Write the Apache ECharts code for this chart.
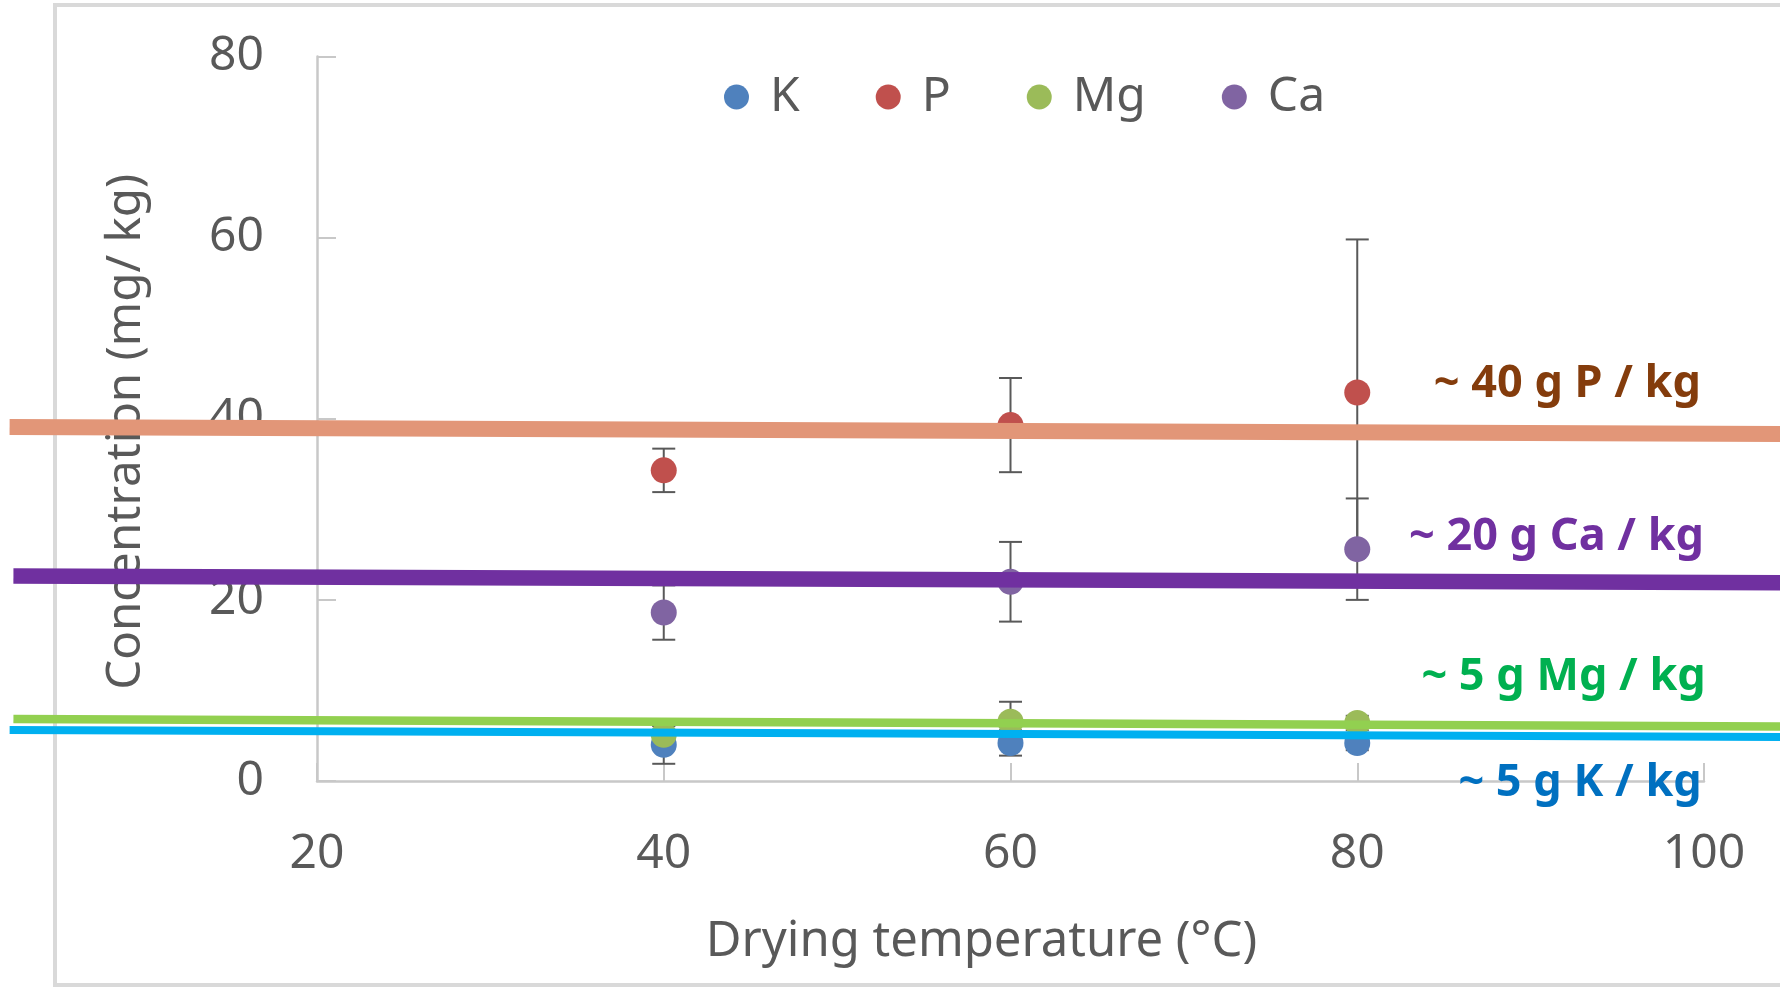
<!DOCTYPE html>
<html><head><meta charset="utf-8">
<script src="https://cdn.jsdelivr.net/npm/echarts@6/dist/echarts.min.js"></script>
<style>html,body{margin:0;padding:0;background:#fff}#c{width:1780px;height:987px}</style>
</head><body><div id="c"></div>
<script>
// ---- data ----
const temps = [40, 60, 80];
const seriesNames = ['K', 'P', 'Mg', 'Ca'];
const valK  = [4.0, 4.2, 4.2];
const valP  = [34.3, 39.3, 42.9];
const valMg = [5.1, 6.55, 6.4];
const valCa = [18.6, 22.0, 25.6];
const errK  = [2.1, 1.4, 0.8];
const errP  = [2.4, 5.2, 16.9];
const errMg = [1.0, 2.2, 0.8];
const errCa = [3.0, 4.4, 5.6];
// hand-drawn trend lines: [x1, y1, x2, y2] end points
const trendP  = [2.27, 39.1, 105, 38.3];
const trendCa = [2.49, 22.65, 105, 21.9];
const trendMg = [2.49, 6.85, 105, 6.0];
const trendK  = [2.27, 5.64, 105, 4.86];
// annotations
const annoText = ['~ 40 g P / kg', '~ 20 g Ca / kg', '~ 5 g Mg / kg', '~ 5 g K / kg'];
const annoX = [99.82, 100.0, 100.1, 99.87];
const annoY = [43.87, 26.96, 11.5, -0.29];
const xTicks = [20, 40, 60, 80, 100];
const yTicks = [0, 20, 40, 60, 80];

// ---- styles ----
const FONT = 'Noto Sans';
const TXT = '#595959';
const dotColors = { K: '#4F81BD', P: '#C0504D', Mg: '#9BBB59', Ca: '#8064A2' };
const annoColors = ['#843C0C', '#7030A0', '#00B050', '#0070C0'];
const trendStyles = [
  { data: trendP, color: '#E29678', width: 16 },
  { data: trendCa, color: '#7030A0', width: 15.5 },
  { data: trendMg, color: '#92D050', width: 8.5 },
  { data: trendK, color: '#00B0F0', width: 8 }
];

const vals = { K: valK, P: valP, Mg: valMg, Ca: valCa };
const errs = { K: errK, P: errP, Mg: errMg, Ca: errCa };

const chart = echarts.init(document.getElementById('c'));

// linear mapping through the axes (extrapolated beyond the axis range)
function mapPt(api, x, y) {
  const a = api.coord([20, 0]);
  const b = api.coord([100, 80]);
  return [a[0] + (x - 20) * (b[0] - a[0]) / 80, a[1] + (y - 0) * (b[1] - a[1]) / 80];
}

const series = [];
// error bars
seriesNames.forEach(n => {
  series.push({
    type: 'custom',
    name: n + '_err',
    data: temps.map((t, i) => [t, vals[n][i], errs[n][i]]),
    renderItem: (params, api) => {
      const x = api.value(0), y = api.value(1), e = api.value(2);
      const top = api.coord([x, y + e]);
      const bot = api.coord([x, y - e]);
      const h = 11.5;
      const st = { stroke: '#595959', lineWidth: 2 };
      return {
        type: 'group', children: [
          { type: 'line', shape: { x1: top[0], y1: top[1], x2: bot[0], y2: bot[1] }, style: st },
          { type: 'line', shape: { x1: top[0] - h, y1: top[1], x2: top[0] + h, y2: top[1] }, style: st },
          { type: 'line', shape: { x1: bot[0] - h, y1: bot[1], x2: bot[0] + h, y2: bot[1] }, style: st }
        ]
      };
    },
    silent: true,
    z: 1
  });
});
// points
seriesNames.forEach(n => {
  series.push({
    type: 'scatter',
    name: n,
    data: temps.map((t, i) => [t, vals[n][i]]),
    symbol: 'circle',
    symbolSize: 26,
    itemStyle: { color: dotColors[n], opacity: 1 },
    z: 2
  });
});
// trend lines
trendStyles.forEach(s => {
  series.push({
    type: 'custom',
    clip: false,
    silent: true,
    z: 3,
    data: [s.data],
    renderItem: (params, api) => {
      const p1 = mapPt(api, api.value(0), api.value(1));
      const p2 = mapPt(api, api.value(2), api.value(3));
      return {
        type: 'line',
        shape: { x1: p1[0], y1: p1[1], x2: p2[0], y2: p2[1] },
        style: { stroke: s.color, lineWidth: s.width, lineCap: 'butt' }
      };
    }
  });
});
// annotations
series.push({
  type: 'scatter',
  clip: false,
  symbolSize: 0,
  silent: true,
  z: 4,
  itemStyle: { opacity: 1 },
  data: annoText.map((t, i) => ({
    value: [annoX[i], annoY[i]],
    label: { formatter: t, color: annoColors[i] }
  })),
  label: {
    show: true, position: 'left', distance: 0, opacity: 1,
    fontFamily: FONT, fontSize: 45, fontWeight: 'bold'
  }
});

chart.setOption({
  animation: false,
  backgroundColor: '#fff',
  graphic: [{
    type: 'rect', z: -10, silent: true,
    shape: { x: 55, y: 5, width: 1800, height: 980 },
    style: { fill: 'none', stroke: '#D9D9D9', lineWidth: 4 }
  }],
  grid: { left: 317, right: 76, top: 56.5, bottom: 206 },
  legend: {
    data: seriesNames,
    left: 724, top: 73, padding: 0,
    icon: 'circle', itemWidth: 25, itemHeight: 25, itemGap: 76,
    textStyle: { fontFamily: FONT, fontSize: 48, color: TXT, padding: [0, 0, 0, 16] }
  },
  xAxis: {
    type: 'value', min: 20, max: 100, interval: 20,
    name: 'Drying temperature (°C)', nameLocation: 'middle', nameGap: 137,
    nameTextStyle: { fontFamily: FONT, fontSize: 49, color: TXT, padding: [0, 58, 0, 0] },
    axisLine: { show: true, lineStyle: { color: '#C8C8C8', width: 2.5 } },
    axisTick: { show: true, inside: true, length: 18, lineStyle: { color: '#C8C8C8', width: 2 } },
    axisLabel: { fontFamily: FONT, fontSize: 48, color: TXT, margin: 49,
      formatter: v => xTicks.includes(v) ? String(v) : '' },
    splitLine: { show: false }
  },
  yAxis: {
    type: 'value', min: 0, max: 80, interval: 20,
    name: 'Concentration (mg/ kg)', nameLocation: 'middle', nameGap: 167, nameRotate: 90,
    nameTextStyle: { fontFamily: FONT, fontSize: 47.5, color: TXT, padding: [0, 26, 0, 0] },
    axisLine: { show: true, lineStyle: { color: '#C8C8C8', width: 2.5 } },
    axisTick: { show: true, inside: true, length: 19, lineStyle: { color: '#C8C8C8', width: 2 } },
    axisLabel: { fontFamily: FONT, fontSize: 48, color: TXT, margin: 53,
      formatter: v => yTicks.includes(v) ? String(v) : '' },
    splitLine: { show: false }
  },
  series: series
});
</script>
</body></html>
